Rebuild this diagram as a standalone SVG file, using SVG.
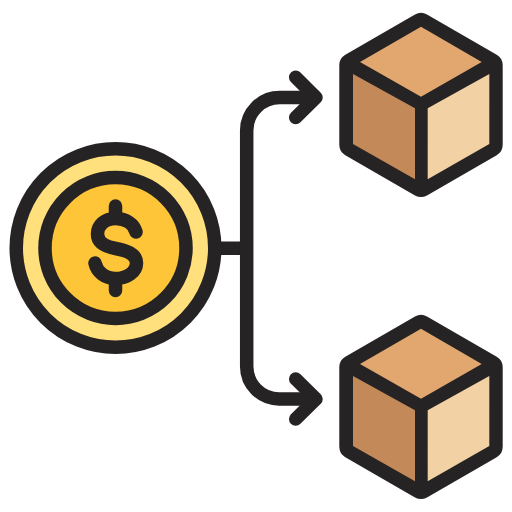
<svg xmlns="http://www.w3.org/2000/svg" width="512" height="512" viewBox="0 0 512 512">
<style>
.l{fill:none;stroke:#262324;stroke-width:13.5;stroke-linecap:round;stroke-linejoin:round}
.sil{fill:#262324;stroke:#262324;stroke-width:24;stroke-linejoin:round}
.t{fill:#e2a76f}.a{fill:#c48958}.b{fill:#f2d1a5}
</style>
<defs>
<g id="cube">
<polygon class="sil" points="421,24.9 490.7,65.1 490.7,144.8 421,185 351.3,144.8 351.3,65.1"/>
<polygon class="t" points="421,26.7 481.7,62 421,96.7 360,62"/>
<polygon class="a" points="353,74 415,108.3 415,179.3 353,144"/>
<polygon class="b" points="427.7,108.3 489.3,74 489.3,144 427.7,179.3"/>
</g>
</defs>
<g id="connectors">
<path class="l" d="M221,248.3H243"/>
<path class="l" d="M315,97.500H279.700A33,33 0 0 0 246.700,130.500V366.500A32.500,32.500 0 0 0 279.200,399H315"/>
<path class="l" d="M295.700,77.300L316,97.500L295.700,117.500"/>
<path class="l" d="M295.700,379L316,399L295.700,419"/>
</g>
<g id="coin">
<circle cx="115.500" cy="248" r="99.250" fill="#ffe07d" stroke="#262324" stroke-width="13.500"/>
<circle cx="115.500" cy="248" r="70.500" fill="#ffc538" stroke="#262324" stroke-width="13.500"/>
<path class="l" d="M136,232C134,224 126,218.500 115.500,218.500C105,218.500 97.500,225 97.500,234C97.500,242 105,246.500 115.500,248.500C127,250.500 136.500,254 136.500,263C136.500,272 127,278.500 115.500,278.500C105,278.500 97,272 95,263"/>
<path class="l" d="M115.500,206V218M115.500,279V290.500"/>
</g>
<g id="box-top"><use href="#cube"/></g>
<g id="box-bottom"><use href="#cube" y="302"/></g>
</svg>
